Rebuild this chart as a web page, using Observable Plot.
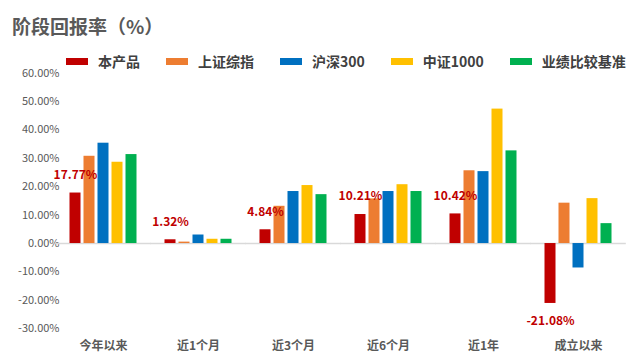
<!DOCTYPE html>
<html>
<head>
<meta charset="utf-8">
<script src="https://cdn.jsdelivr.net/npm/d3@7"></script>
<script src="https://cdn.jsdelivr.net/npm/@observablehq/plot@0.6"></script>
<style>
  html, body { margin: 0; padding: 0; background: #fff; }
  body { width: 641px; height: 361px; position: relative; overflow: hidden; font-family: "Noto Sans CJK SC", "Noto Sans", sans-serif; }
  #title { position: absolute; left: 12px; top: 16px; font-size: 19px; line-height: 19px; font-weight: bold; color: #595959; white-space: nowrap; }
  #legend { position: absolute; left: 66px; top: 54px; display: flex; align-items: center; white-space: nowrap; }
  .item { display: flex; align-items: center; margin-right: 26px; }
  .sw { width: 22px; height: 7px; margin-right: 10px; }
  .lab { font-size: 14px; line-height: 14px; font-weight: bold; color: #404040; }
  #chart { position: absolute; left: 0; top: 0; }
  #chart svg { font-family: "Noto Sans CJK SC", "Noto Sans", sans-serif; overflow: visible; }
  [aria-label="y-axis tick label"] { fill: #595959; font-size: 11px; }
  [aria-label="fx-axis tick label"] { fill: #595959; font-size: 12px; font-weight: bold; }
</style>
</head>
<body>
<div id="title">阶段回报率（%）</div>
<div id="legend"></div>
<div id="chart"></div>
<script>
const categories = ["今年以来", "近1个月", "近3个月", "近6个月", "近1年", "成立以来"];
const seriesNames = ["本产品", "上证综指", "沪深300", "中证1000", "业绩比较基准"];
const colors = ["#C00000", "#ED7D31", "#0070C0", "#FFC000", "#00B050"];
const product   = [17.77, 1.32, 4.84, 10.21, 10.42, -21.08];
const shIndex   = [30.7, 0.5, 13.1, 15.7, 25.6, 14.2];
const hs300     = [35.3, 3.0, 18.3, 18.3, 25.3, -8.6];
const zz1000    = [28.6, 1.5, 20.4, 20.7, 47.3, 15.8];
const benchmark = [31.3, 1.5, 17.2, 18.3, 32.6, 7.0];
const yTicks = [-30, -20, -10, 0, 10, 20, 30, 40, 50, 60];

const seriesValues = [product, shIndex, hs300, zz1000, benchmark];
const rows = [];
categories.forEach((c, i) => {
  seriesNames.forEach((s, j) => rows.push({category: c, series: s, value: seriesValues[j][i]}));
});
const labelRows = rows.filter(d => d.series === seriesNames[0]);
const fmtLabel = d => d.value.toFixed(2) + "%";

// legend
const legend = document.getElementById("legend");
seriesNames.forEach((s, j) => {
  const it = document.createElement("div");
  it.className = "item";
  const sw = document.createElement("div");
  sw.className = "sw";
  sw.style.background = colors[j];
  const lb = document.createElement("span");
  lb.className = "lab";
  lb.textContent = s;
  it.appendChild(sw); it.appendChild(lb);
  legend.appendChild(it);
});

const W = 641, ML = 53.5, MR = 14;
const PI = 0.268, PO = 0.134;
const fxStep = (W - ML - MR) / (categories.length - PI + 2 * PO);
const ruleExt = -(PI / 2) * fxStep; // extend zero line across the gaps between groups

const chart = Plot.plot({
  width: W,
  height: 361,
  marginTop: 72.5,
  marginBottom: 32.7,
  marginLeft: ML,
  marginRight: MR,
  fx: {domain: categories, paddingInner: PI, paddingOuter: PO, axis: "bottom", tickSize: 0, tickPadding: 13, label: null},
  x: {domain: seriesNames, paddingInner: 0.2, paddingOuter: 0, axis: null},
  y: {domain: [-30, 60], ticks: yTicks, tickFormat: d => d.toFixed(2) + "%", tickSize: 0, tickPadding: 9, label: null},
  color: {domain: seriesNames, range: colors},
  marks: [
    Plot.ruleY(categories.map(c => ({category: c, v: 0})), {fx: "category", y: "v", stroke: "#d9d9d9", strokeWidth: 1.5, insetLeft: ruleExt, insetRight: ruleExt}),
    Plot.barY(rows, {fx: "category", x: "series", y: "value", fill: "series"}),
    Plot.text(labelRows.filter(d => d.value >= 0), {fx: "category", x: "series", y: "value", text: fmtLabel, dy: -18, fill: "#C00000", fontWeight: "bold", fontSize: 12}),
    Plot.text(labelRows.filter(d => d.value < 0), {fx: "category", x: "series", y: "value", text: fmtLabel, dy: 18, fill: "#C00000", fontWeight: "bold", fontSize: 12})
  ]
});
document.getElementById("chart").appendChild(chart);
</script>
</body>
</html>
